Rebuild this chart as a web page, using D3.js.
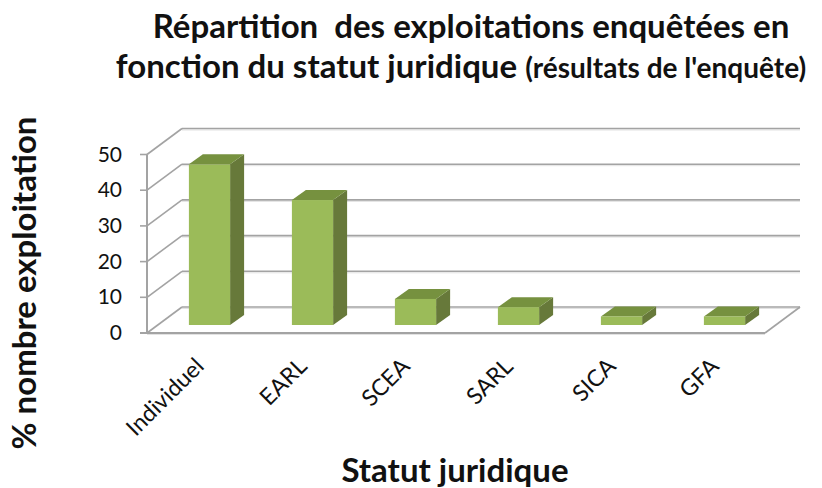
<!DOCTYPE html>
<html lang="fr"><head><meta charset="utf-8">
<script src="https://cdn.jsdelivr.net/npm/d3@7"></script>
<style>
html,body{margin:0;padding:0;background:#fff}
svg{display:block}
text{font-family:Lato,"Open Sans",sans-serif;fill:#111}
</style></head><body><svg id="c" width="822" height="488"></svg>
<script>
const categories = ["Individuel","EARL","SCEA","SARL","SICA","GFA"];
const values = [45,35,7.3,5,2.4,2.4];
const yTicks = [0,10,20,30,40,50];
const titleLine1 = "Répartition  des exploitations enquêtées en";
const titleLine2 = "fonction du statut juridique";
const titleSuffix = "(résultats de l'enquête)";
const yTitle = "% nombre exploitation";
const xTitle = "Statut juridique";

const svg = d3.select("#c");
const y = d3.scaleLinear().domain([0,50]).range([333,154.5]);
const x = d3.scaleBand().domain(categories).range([158,776]).paddingInner(0.6).paddingOuter(0.3);
const depth = {dx:35, dy:-26};
const barDepth = {dx:14, dy:-10};
const baseLift = 8;
const left = 147, right = 765;
const grid = "#a3a3a3";

function seg(x1,y1,x2,y2,w=1.6,c=grid){
  svg.append("line").attr("x1",x1).attr("y1",y1).attr("x2",x2).attr("y2",y2)
     .attr("stroke",c).attr("stroke-width",w);
}
yTicks.forEach(t=>{
  const p=y(t);
  seg(left+depth.dx,p+depth.dy+1.5,right+depth.dx,p+depth.dy+1.5,1,"#e2e2e2");
  seg(left+depth.dx,p+depth.dy,right+depth.dx,p+depth.dy);
  seg(left,p,left+depth.dx,p+depth.dy);
  seg(left-7,p,left,p);
});
seg(left,y(0)+1.5,right,y(0)+1.5,1,"#e2e2e2");
seg(left-7,y(0),right,y(0),2);
seg(right,y(0),right+depth.dx,y(0)+depth.dy);
seg(left,y(50),left,y(0),2);

const base = y(0)-baseLift;
const h = v => y(0)-y(v);
const g = svg.append("g").selectAll("g").data(categories.map((c,i)=>({c,v:values[i]}))).join("g");
g.append("path").attr("fill","#67793a").attr("d",d=>{
  const a=x(d.c)+x.bandwidth(), t=base-h(d.v);
  return `M${a},${t}L${a+barDepth.dx},${t+barDepth.dy}L${a+barDepth.dx},${base+barDepth.dy}L${a},${base}Z`;
});
g.append("path").attr("fill","#76913f").attr("d",d=>{
  const a=x(d.c), b=a+x.bandwidth(), t=base-h(d.v);
  return `M${a},${t}L${a+barDepth.dx},${t+barDepth.dy}L${b+barDepth.dx},${t+barDepth.dy}L${b},${t}Z`;
});
g.append("rect").attr("fill","#9bbb59").attr("x",d=>x(d.c)).attr("width",x.bandwidth())
  .attr("y",d=>base-h(d.v)).attr("height",d=>h(d.v));

svg.append("g").selectAll("text").data(yTicks).join("text")
  .attr("x",122).attr("y",d=>y(d)+7).attr("text-anchor","end").attr("font-size",21).text(d=>d);
svg.append("g").selectAll("text").data(categories).join("text")
  .attr("font-size",23).attr("text-anchor","end")
  .attr("transform",d=>`translate(${x(d)+x.bandwidth()/2-14},358) rotate(-45)`)
  .attr("dy","0.6em").text(d=>d);

svg.append("text").attr("x",471).attr("y",38).attr("text-anchor","middle")
  .attr("font-size",33).attr("font-weight",700).style("white-space","pre").text(titleLine1);
const t2=svg.append("text").attr("x",461).attr("y",78).attr("text-anchor","middle").attr("font-weight",700);
t2.append("tspan").attr("font-size",33).text(titleLine2+" ");
t2.append("tspan").attr("font-size",28).text(titleSuffix);
svg.append("text").attr("text-anchor","middle").attr("font-size",33).attr("font-weight",700)
  .attr("transform","translate(36,283) rotate(-90)").text(yTitle);
svg.append("text").attr("x",455).attr("y",482).attr("text-anchor","middle")
  .attr("font-size",33).attr("font-weight",700).text(xTitle);
</script></body></html>
